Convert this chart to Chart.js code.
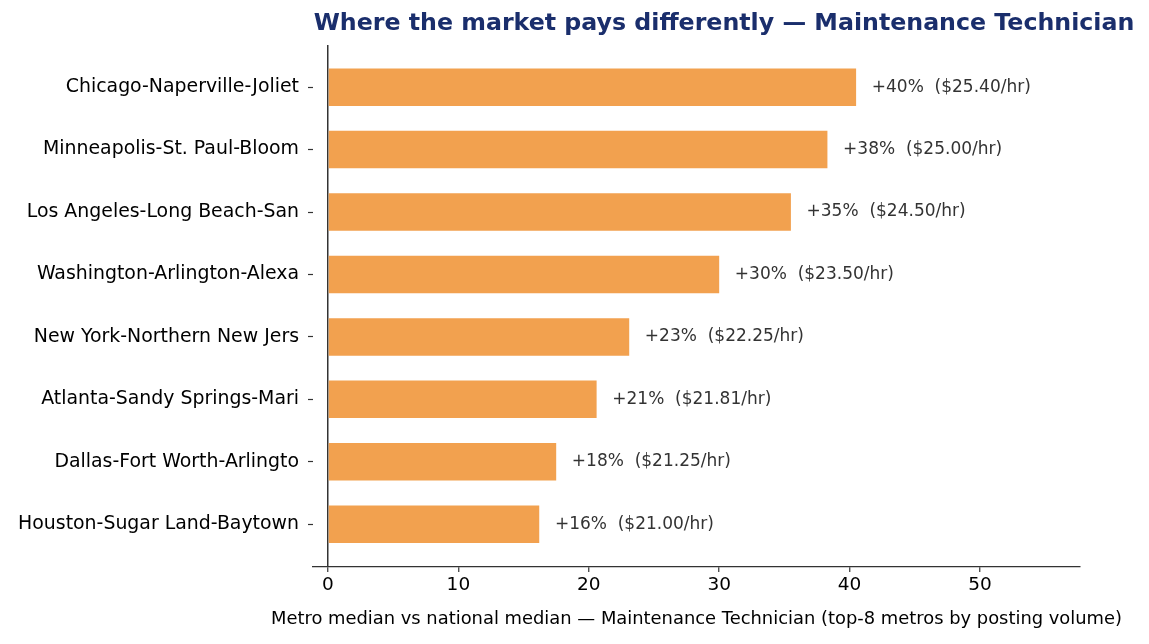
<!DOCTYPE html>
<html>
<head>
<meta charset="utf-8">
<script src="https://cdn.jsdelivr.net/npm/chart.js@4.4.1/dist/chart.umd.min.js"></script>
<style>
  html, body { margin: 0; padding: 0; background: #fff; }
  #wrap { width: 1149px; height: 644px; }
</style>
</head>
<body>
<div id="wrap"><canvas id="chart" width="1149" height="644"></canvas></div>
<script>
// data
const metros = [
  'Chicago-Naperville-Joliet',
  'Minneapolis-St. Paul-Bloom',
  'Los Angeles-Long Beach-San',
  'Washington-Arlington-Alexa',
  'New York-Northern New Jers',
  'Atlanta-Sandy Springs-Mari',
  'Dallas-Fort Worth-Arlingto',
  'Houston-Sugar Land-Baytown'
];
const premiumPct = [40.5, 38.3, 35.5, 30.0, 23.1, 20.6, 17.5, 16.2];
const pctLabels = ['+40%', '+38%', '+35%', '+30%', '+23%', '+21%', '+18%', '+16%'];
const hourly = ['$25.40', '$25.00', '$24.50', '$23.50', '$22.25', '$21.81', '$21.25', '$21.00'];
const xTicks = [0, 10, 20, 30, 40, 50];

const FONT = "'DejaVu Sans', sans-serif";
const X_TITLE = 'Metro median vs national median \u2014 Maintenance Technician (top-8 metros by posting volume)';

// value labels to the right of each bar
const barLabels = {
  id: 'barLabels',
  afterDatasetsDraw(chart) {
    const ctx = chart.ctx;
    const meta = chart.getDatasetMeta(0);
    const xs = chart.scales.x;
    ctx.save();
    ctx.font = '17px ' + FONT;
    ctx.fillStyle = '#333';
    ctx.textAlign = 'left';
    ctx.textBaseline = 'middle';
    meta.data.forEach((bar, i) => {
      const x = xs.getPixelForValue(premiumPct[i] + 1.2);
      ctx.fillText(pctLabels[i] + '  (' + hourly[i] + '/hr)', x, bar.y);
    });
    ctx.restore();
  }
};

// title + x axis label (chart.js squeezes a long scale title, so draw it here)
const titlePlugin = {
  id: 'titlePlugin',
  afterDraw(chart) {
    const ctx = chart.ctx;
    const area = chart.chartArea;
    ctx.save();
    ctx.textAlign = 'center';
    ctx.textBaseline = 'middle';
    ctx.font = 'bold 23.7px ' + FONT;
    ctx.fillStyle = '#1a2e6c';
    ctx.fillText('Where the market pays differently \u2014 Maintenance Technician', 724, 24);
    ctx.font = '17.9px ' + FONT;
    ctx.fillStyle = '#000';
    ctx.fillText(X_TITLE, (area.left + area.right) / 2, 619);
    ctx.restore();
  }
};

new Chart(document.getElementById('chart').getContext('2d'), {
  type: 'bar',
  data: {
    datasets: [{
      data: premiumPct.map((v, i) => ({ x: v, y: i })),
      backgroundColor: '#f2a14f',
      borderWidth: 0,
      barPercentage: 0.6,
      categoryPercentage: 1.0
    }]
  },
  options: {
    indexAxis: 'y',
    responsive: false,
    animation: false,
    devicePixelRatio: 1,
    layout: { padding: { top: 45, right: 69, left: 0, bottom: 0 } },
    plugins: {
      legend: { display: false },
      tooltip: { enabled: false }
    },
    scales: {
      x: {
        type: 'linear',
        min: -1.15,
        max: 57.67,
        z: 1,
        afterBuildTicks: s => { s.ticks = xTicks.map(v => ({ value: v })); },
        afterFit: s => { s.height = 77; },
        border: { display: true, color: '#333', width: 1.3 },
        grid: {
          drawOnChartArea: true,
          color: c => (c.tick && c.tick.value === 0) ? '#333' : 'rgba(0,0,0,0)',
          lineWidth: 1.5,
          tickColor: '#333',
          tickLength: 5,
          tickWidth: 1.2
        },
        ticks: {
          color: '#000',
          font: { family: FONT, size: 18.5 },
          padding: 2,
          maxRotation: 0
        }
      },
      y: {
        type: 'linear',
        reverse: true,
        offset: false,
        min: -0.675,
        max: 7.685,
        afterBuildTicks: s => { s.ticks = metros.map((_, i) => ({ value: i })); },
        afterFit: s => { s.width = 313; },
        border: { display: false },
        grid: {
          offset: false,
          drawOnChartArea: false,
          color: 'rgba(0,0,0,0)',
          tickColor: '#333',
          tickLength: 5,
          tickWidth: 1.2
        },
        ticks: {
          color: '#000',
          font: { family: FONT, size: 18.9 },
          padding: 9,
          callback: v => metros[v]
        }
      }
    }
  },
  plugins: [barLabels, titlePlugin]
});
</script>
</body>
</html>
